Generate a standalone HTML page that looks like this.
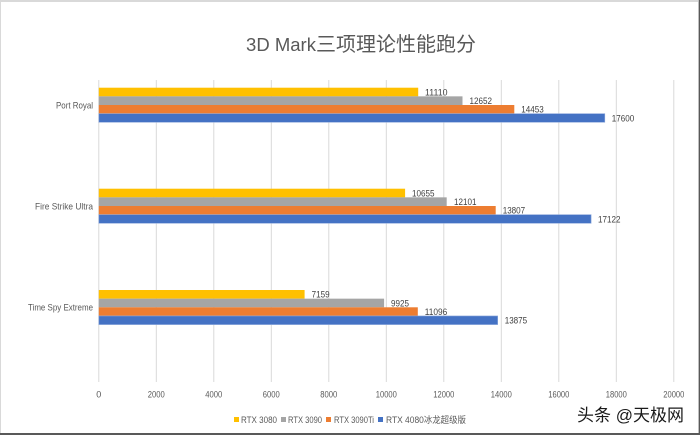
<!DOCTYPE html>
<html>
<head>
<meta charset="utf-8">
<style>
  html,body{margin:0;padding:0;background:#fff;}
  body{width:700px;height:435px;overflow:hidden;}
  svg{display:block;}
  text{font-family:"Liberation Sans","Noto Sans CJK SC",sans-serif;}
</style>
</head>
<body>
<svg width="700" height="435" viewBox="0 0 700 435" xmlns="http://www.w3.org/2000/svg">
  <rect x="0" y="0" width="700" height="435" fill="#ffffff"/>
  <!-- frame -->
  <rect x="0" y="0" width="700" height="2" fill="#d9d9d9"/>
  <rect x="0" y="0" width="1" height="435" fill="#d9d9d9"/>
  <rect x="698" y="0" width="1" height="435" fill="#bfbfbf"/>
  <rect x="699" y="0" width="1" height="435" fill="#595959"/>
  <rect x="0" y="433" width="700" height="2" fill="#595959"/>

  <!-- title -->
  <text x="361" y="51" text-anchor="middle" fill="#595959" font-size="20"><tspan font-size="18.5">3D Mark</tspan><tspan font-family="Noto Sans CJK SC, sans-serif">三项理论性能跑分</tspan></text>

  <!-- gridlines -->
  <g stroke="#d9d9d9" stroke-width="1">
    <line x1="98.8" y1="80" x2="98.8" y2="382"/>
    <line x1="156.3" y1="80" x2="156.3" y2="382"/>
    <line x1="213.8" y1="80" x2="213.8" y2="382"/>
    <line x1="271.3" y1="80" x2="271.3" y2="382"/>
    <line x1="328.8" y1="80" x2="328.8" y2="382"/>
    <line x1="386.3" y1="80" x2="386.3" y2="382"/>
    <line x1="443.8" y1="80" x2="443.8" y2="382"/>
    <line x1="501.3" y1="80" x2="501.3" y2="382"/>
    <line x1="558.8" y1="80" x2="558.8" y2="382"/>
    <line x1="616.3" y1="80" x2="616.3" y2="382"/>
    <line x1="673.8" y1="80" x2="673.8" y2="382"/>
  </g>

  <!-- bars -->
  <rect x="98.8" y="87.7" width="319.4" height="8.65" fill="#FFC000"/>
  <rect x="98.8" y="96.35" width="363.7" height="8.65" fill="#A5A5A5"/>
  <rect x="98.8" y="105.0" width="415.5" height="8.65" fill="#ED7D31"/>
  <rect x="98.8" y="113.65" width="506.0" height="8.65" fill="#4472C4" stroke="#8faadc" stroke-width="0.6"/>

  <rect x="98.8" y="188.7" width="306.3" height="8.65" fill="#FFC000"/>
  <rect x="98.8" y="197.35" width="347.9" height="8.65" fill="#A5A5A5"/>
  <rect x="98.8" y="206.0" width="396.9" height="8.65" fill="#ED7D31"/>
  <rect x="98.8" y="214.65" width="492.3" height="8.65" fill="#4472C4" stroke="#8faadc" stroke-width="0.6"/>

  <rect x="98.8" y="290.0" width="205.8" height="8.65" fill="#FFC000"/>
  <rect x="98.8" y="298.65" width="285.3" height="8.65" fill="#A5A5A5"/>
  <rect x="98.8" y="307.3" width="319.0" height="8.65" fill="#ED7D31"/>
  <rect x="98.8" y="315.95" width="398.9" height="8.65" fill="#4472C4" stroke="#8faadc" stroke-width="0.6"/>

  <!-- value labels -->
  <g fill="#404040" font-size="9">
    <text x="425" y="95.3" textLength="22.5" lengthAdjust="spacingAndGlyphs">11110</text>
    <text x="469.5" y="104" textLength="22.5" lengthAdjust="spacingAndGlyphs">12652</text>
    <text x="521.3" y="112.6" textLength="22.5" lengthAdjust="spacingAndGlyphs">14453</text>
    <text x="611.8" y="121.3" textLength="22.5" lengthAdjust="spacingAndGlyphs">17600</text>

    <text x="412" y="196.3" textLength="22.5" lengthAdjust="spacingAndGlyphs">10655</text>
    <text x="454" y="205" textLength="22.5" lengthAdjust="spacingAndGlyphs">12101</text>
    <text x="502.7" y="213.6" textLength="22.5" lengthAdjust="spacingAndGlyphs">13807</text>
    <text x="598" y="222.3" textLength="22.5" lengthAdjust="spacingAndGlyphs">17122</text>

    <text x="311.6" y="297.6" textLength="18" lengthAdjust="spacingAndGlyphs">7159</text>
    <text x="391" y="306.3" textLength="18" lengthAdjust="spacingAndGlyphs">9925</text>
    <text x="424.8" y="314.9" textLength="22.5" lengthAdjust="spacingAndGlyphs">11096</text>
    <text x="504.7" y="323.6" textLength="22.5" lengthAdjust="spacingAndGlyphs">13875</text>
  </g>

  <!-- category labels -->
  <g fill="#595959" font-size="9.5">
    <text x="56" y="108.3" textLength="37" lengthAdjust="spacingAndGlyphs">Port Royal</text>
    <text x="35" y="209.3" textLength="58" lengthAdjust="spacingAndGlyphs">Fire Strike Ultra</text>
    <text x="28" y="310.6" textLength="65" lengthAdjust="spacingAndGlyphs">Time Spy Extreme</text>
  </g>

  <!-- axis tick labels -->
  <g fill="#595959" font-size="9" text-anchor="middle">
    <text x="98.8" y="397.3">0</text>
    <text x="156.3" y="397.3" textLength="17" lengthAdjust="spacingAndGlyphs">2000</text>
    <text x="213.8" y="397.3" textLength="17" lengthAdjust="spacingAndGlyphs">4000</text>
    <text x="271.3" y="397.3" textLength="17" lengthAdjust="spacingAndGlyphs">6000</text>
    <text x="328.8" y="397.3" textLength="17" lengthAdjust="spacingAndGlyphs">8000</text>
    <text x="386.3" y="397.3" textLength="21" lengthAdjust="spacingAndGlyphs">10000</text>
    <text x="443.8" y="397.3" textLength="21" lengthAdjust="spacingAndGlyphs">12000</text>
    <text x="501.3" y="397.3" textLength="21" lengthAdjust="spacingAndGlyphs">14000</text>
    <text x="558.8" y="397.3" textLength="21" lengthAdjust="spacingAndGlyphs">16000</text>
    <text x="616.3" y="397.3" textLength="21" lengthAdjust="spacingAndGlyphs">18000</text>
    <text x="673.8" y="397.3" textLength="21" lengthAdjust="spacingAndGlyphs">20000</text>
  </g>

  <!-- legend -->
  <g font-size="9" fill="#595959">
    <rect x="234" y="417" width="5" height="5" fill="#FFC000"/>
    <text x="241" y="423" textLength="36" lengthAdjust="spacingAndGlyphs">RTX 3080</text>
    <rect x="281" y="417" width="5" height="5" fill="#A5A5A5"/>
    <text x="288" y="423" textLength="34" lengthAdjust="spacingAndGlyphs">RTX 3090</text>
    <rect x="326" y="417" width="5" height="5" fill="#ED7D31"/>
    <text x="334" y="423" textLength="40" lengthAdjust="spacingAndGlyphs">RTX 3090Ti</text>
    <rect x="378" y="417" width="5" height="5" fill="#4472C4"/>
    <text x="386" y="423" textLength="80" lengthAdjust="spacingAndGlyphs">RTX 4080冰龙超级版</text>
  </g>

  <!-- watermark -->
  <text x="577" y="421" font-size="17" fill="#1a1a1a" stroke="#ffffff" stroke-width="2" paint-order="stroke" font-family="Noto Sans CJK SC, sans-serif">头条 @天极网</text>
</svg>
</body>
</html>
